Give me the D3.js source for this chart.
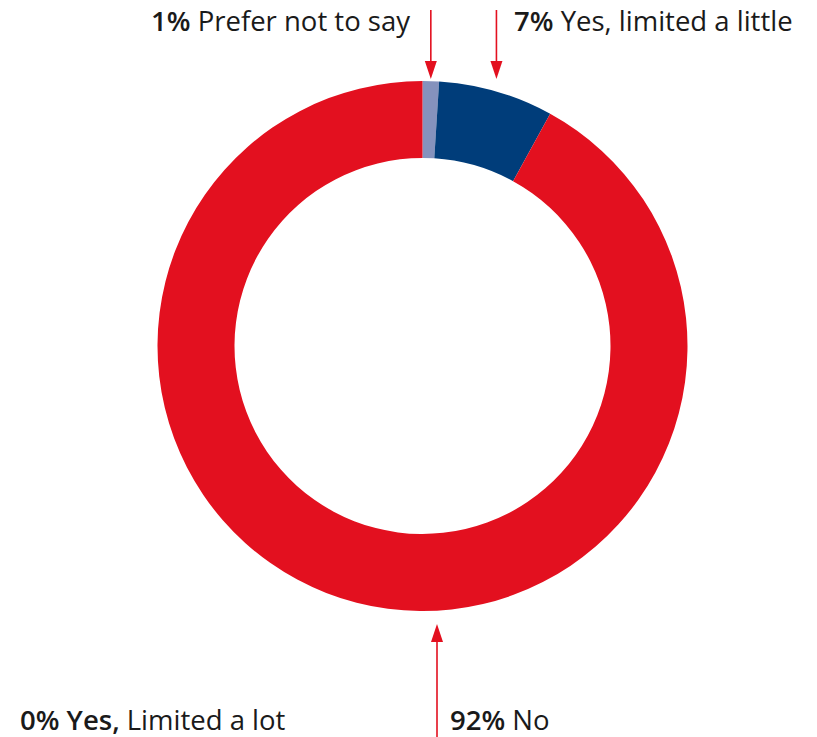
<!DOCTYPE html>
<html>
<head>
<meta charset="utf-8">
<script src="https://cdn.jsdelivr.net/npm/d3@7"></script>
<style>
  body { margin: 0; background: #fff; }
  text { font-family: "Open Sans", sans-serif; fill: #1a1a1a; }
</style>
</head>
<body>
<svg id="chart"></svg>
<script>
// data
var categories = ["Prefer not to say", "Yes, limited a little", "No", "Yes, Limited a lot"];
var values = [1, 7, 92, 0];
var colors = ["#8592bd", "#003d7a", "#e3101f", "#e3101f"];
var boldParts = ["1%", "7%", "92%", "0% Yes,"];
var restParts = [" Prefer not to say", " Yes, limited a little", " No", " Limited a lot"];

var width = 817, height = 737;
var cx = 422.5, cy = 346, outerR = 265, innerR = 188;
var red = "#e3101f";

var svg = d3.select("#chart").attr("width", width).attr("height", height);

var pie = d3.pie().sort(null).value(function (d) { return d; });
var arcs = pie(values);
var arc = d3.arc().innerRadius(innerR).outerRadius(outerR);

// donut
svg.append("g")
   .attr("transform", "translate(" + cx + "," + cy + ")")
   .selectAll("path")
   .data(arcs)
   .enter().append("path")
   .attr("d", arc)
   .attr("fill", function (d, i) { return colors[i]; });

function midX(i) {
    var a = (arcs[i].startAngle + arcs[i].endAngle) / 2;
    return cx + outerR * Math.sin(a);
}

// label layout: arrow x, arrow from y1 to tip y2, text position
var labels = [
    {i: 0, ax: midX(0), y1: 10, y2: 79, tx: 410, ty: 31, anchor: "end"},
    {i: 1, ax: midX(1), y1: 10, y2: 79, tx: 514, ty: 31, anchor: "start"},
    {i: 2, ax: 437, y1: 737, y2: 624, tx: 450, ty: 730, anchor: "start"},
    {i: 3, ax: null, tx: 20, ty: 730, anchor: "start"}
];

var headW = 6, headH = 18;

labels.forEach(function (l) {
    if (l.ax !== null) {
        var dir = l.y2 > l.y1 ? 1 : -1;
        svg.append("line")
           .attr("x1", l.ax).attr("y1", l.y1)
           .attr("x2", l.ax).attr("y2", l.y2 - dir * headH)
           .attr("stroke", red)
           .attr("stroke-width", 1.6);
        svg.append("path")
           .attr("d", "M" + (l.ax - headW) + "," + (l.y2 - dir * headH) +
                      "L" + (l.ax + headW) + "," + (l.y2 - dir * headH) +
                      "L" + l.ax + "," + l.y2 + "Z")
           .attr("fill", red);
    }
    var t = svg.append("text")
       .attr("x", l.tx).attr("y", l.ty)
       .attr("text-anchor", l.anchor)
       .style("font-size", "27.5px");
    t.append("tspan").style("font-weight", "600").text(boldParts[l.i]);
    t.append("tspan").style("font-weight", "400").text(restParts[l.i]);
});
</script>
</body>
</html>
